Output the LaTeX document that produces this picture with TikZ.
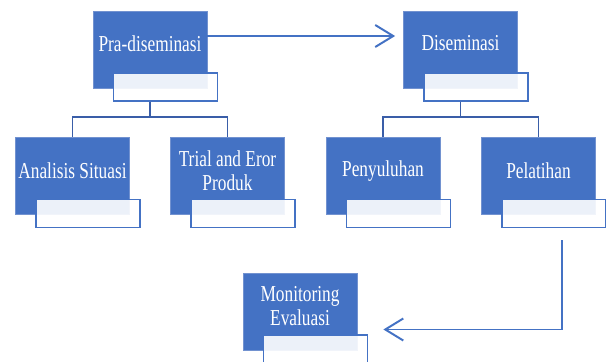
\documentclass[tikz,border=0pt]{standalone}
\usepackage{fontspec}
\setmainfont[FakeStretch=0.76]{Liberation Serif}
\usetikzlibrary{arrows.meta}
\definecolor{accent}{HTML}{4472C4}
\definecolor{accentdark}{HTML}{3A5EA8}
\definecolor{accentedge}{HTML}{7292D0}

\begin{document}
\begin{tikzpicture}[x=0.025cm,y=-0.025cm,
  bluebox/.style={draw=accentedge,line width=.5pt,fill=accent,minimum width=2.85cm,minimum height=1.925cm,inner sep=0pt},
  subbox/.style={draw=accent,line width=1pt,fill=white,fill opacity=.9,minimum width=2.6cm,minimum height=.7cm,inner sep=0pt,anchor=north east},
  boxtext/.style={text=white,align=center,font=\fontsize{16.2}{17}\selectfont,inner sep=0pt},
  link/.style={draw=accentdark,line width=.9pt},
  flow/.style={draw=accent,line width=1.4pt,-{Straight Barb[length=.45cm,width=.55cm]}}]
\useasboundingbox (0,0) rectangle (606,362);
% kotak utama
\node[bluebox] (pra) at (150,49.5) {};
\node[bluebox] (dis) at (460.5,49.5) {};
\node[bluebox] (ana) at (72.5,176) {};
\node[bluebox] (tri) at (227.5,176) {};
\node[bluebox] (pen) at (383,176) {};
\node[bluebox] (pel) at (538.5,176) {};
\node[bluebox] (mon) at (300,311.5) {};
% kotak kecil
\foreach \b in {pra,dis,ana,tri,pen,pel,mon}{
  \node[subbox] (\b-s) at ([shift={(11,-16)}]\b.south east) {};
}
% teks
\node[boxtext] (pra-t) at ([shift={(0,-6)}]pra.center) {Pra-diseminasi};
\node[boxtext] (dis-t) at ([shift={(0,-6)}]dis.center) {Diseminasi};
\node[boxtext] (ana-t) at ([shift={(0,-5)}]ana.center) {Analisis Situasi};
\node[boxtext] (tri-t) at ([shift={(0,-5)}]tri.center) {Trial and Eror\\Produk};
\node[boxtext] (pen-t) at ([shift={(0,-5)}]pen.center) {Penyuluhan};
\node[boxtext] (pel-t) at ([shift={(0,-5)}]pel.center) {Pelatihan};
\node[boxtext] (mon-t) at ([shift={(0,-5)}]mon.center) {Monitoring\\Evaluasi};
% cabang
\coordinate (lj) at (150,117);
\coordinate (rj) at (460.5,117);
\draw[link] (pra-s.south -| pra) -- (lj);
\draw[link] (ana.north) |- (lj) -| (tri.north);
\draw[link] (dis-s.south -| dis) -- (rj);
\draw[link] (pen.north) |- (rj) -| (pel.north);
% panah
\draw[flow,shorten >=.2cm] ([shift={(0,-13.5)}]pra.east) -- ([shift={(0,-13.5)}]dis.west);
\coordinate (pel-out) at (562,240);
\draw[flow,shorten >=.65cm] (pel-out) |- ([shift={(0,18)}]mon.east);
\end{tikzpicture}
\end{document}
